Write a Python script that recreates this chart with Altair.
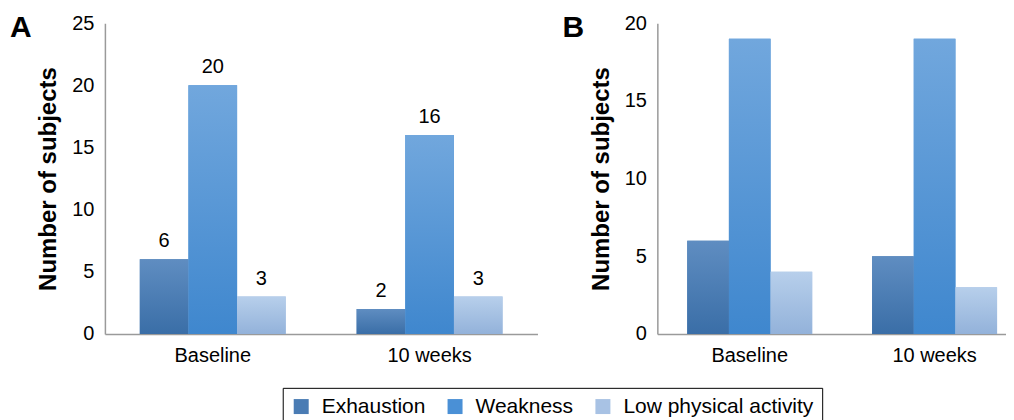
import altair as alt
import pandas as pd

groups = ["Baseline", "10 weeks"]
series = ["Exhaustion", "Weakness", "Low physical activity"]

a_exhaustion = [6, 2]
a_weakness = [20, 16]
a_low = [3, 3]

b_exhaustion = [6, 5]
b_weakness = [19, 19]
b_low = [4, 3]

legend_colors = ["#4a7cb4", "#4a90d6", "#a8c2e4"]
gradient_colors = {
    "Exhaustion": ("#5f8dc1", "#3a6ea7"),
    "Weakness": ("#71a7dd", "#3f87ce"),
    "Low physical activity": ("#b7cfeb", "#93b2da"),
}


def frame(ex, wk, lo):
    rows = []
    for i, g in enumerate(groups):
        for s, vals in zip(series, [ex, wk, lo]):
            rows.append({"group": g, "series": s, "value": vals[i]})
    return pd.DataFrame(rows)


color_enc = alt.Color(
    "series:N",
    sort=series,
    scale=alt.Scale(domain=series, range=legend_colors),
    legend=alt.Legend(
        orient="none",
        legendX=178,
        legendY=365,
        direction="horizontal",
        title=None,
        labelFontSize=21,
        labelColor="black",
        labelLimit=400,
        symbolType="square",
        symbolSize=225,
        symbolStrokeWidth=0,
        labelOffset=10,
        columnPadding=19,
        padding=8,
        strokeColor="black",
    ),
)


def panel(df, letter, ymax, width, pi, po, align, with_labels):
    x = alt.X(
        "group:N",
        sort=groups,
        scale=alt.Scale(paddingInner=pi, paddingOuter=po, align=align),
        axis=alt.Axis(
            title=None,
            labelAngle=0,
            labelFontSize=20,
            labelColor="black",
            labelPadding=12,
            ticks=False,
            grid=False,
            domainColor="#9a9a9a",
            domainWidth=1.5,
        ),
    )
    xo = alt.XOffset(
        "series:N", sort=series, scale=alt.Scale(paddingInner=0, paddingOuter=0)
    )
    y = alt.Y(
        "value:Q",
        scale=alt.Scale(domain=[0, ymax], nice=False),
        axis=alt.Axis(
            values=list(range(0, ymax + 1, 5)),
            title="Number of subjects",
            titleFontSize=24,
            titleFontWeight="bold",
            titleColor="black",
            titlePadding=11,
            labelFontSize=20,
            labelColor="black",
            labelPadding=11,
            ticks=False,
            grid=False,
            domainColor="#9a9a9a",
            domainWidth=1.5,
        ),
    )
    base = alt.Chart(df).encode(x=x, xOffset=xo, y=y)
    layers = [base.mark_bar().encode(color=color_enc)]
    for s in series:
        top, bot = gradient_colors[s]
        layers.append(
            base.transform_filter(alt.datum.series == s).mark_bar(
                color=alt.LinearGradient(
                    gradient="linear",
                    stops=[
                        alt.GradientStop(color=top, offset=0),
                        alt.GradientStop(color=bot, offset=1),
                    ],
                    x1=0, x2=0, y1=0, y2=1,
                )
            )
        )
    if with_labels:
        layers.append(
            base.mark_text(dy=-8, baseline="bottom", fontSize=20, color="black").encode(
                text="value:Q"
            )
        )
    layers.append(
        alt.Chart(pd.DataFrame({"t": [letter]}))
        .mark_text(
            align="left", baseline="alphabetic", fontSize=30, fontWeight="bold",
            color="black", x=-95, y=14,
        )
        .encode(text="t:N")
    )
    return alt.layer(*layers).properties(width=width, height=311)


panel_a = panel(frame(a_exhaustion, a_weakness, a_low), "A", 25, 433, 0.327, 0.161, 0.5, True)
panel_b = panel(frame(b_exhaustion, b_weakness, b_low), "B", 20, 349, 0.324, 0.105, 0.77, False)

chart = (
    alt.hconcat(panel_a, panel_b, spacing=25)
    .resolve_scale(x="independent", xOffset="independent", y="independent")
    .properties(padding={"left": 2, "top": 5, "right": 0, "bottom": 0})
    .configure(font="Liberation Sans")
    .configure_view(stroke=None)
)

chart.save("out.html", embed_options={"renderer": "svg", "actions": False})
